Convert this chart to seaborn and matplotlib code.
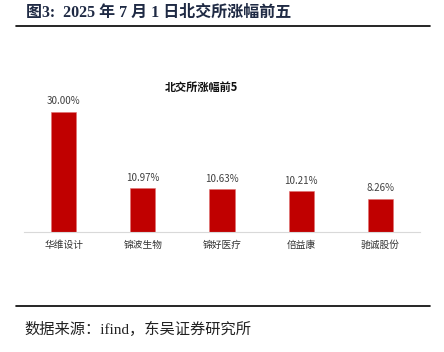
import matplotlib
matplotlib.use("Agg")
import matplotlib.pyplot as plt
import seaborn as sns
import pandas as pd
from matplotlib.lines import Line2D

stocks = ["华维设计", "锦波生物", "锦好医疗", "倍益康", "驰诚股份"]
gains = [30.00, 10.97, 10.63, 10.21, 8.26]
labels = ["30.00%", "10.97%", "10.63%", "10.21%", "8.26%"]

sns.set_theme(style="white")
plt.rcParams['font.family'] = ['Noto Sans CJK SC', 'DejaVu Sans']

df = pd.DataFrame({"stock": stocks, "gain": gains})

fig = plt.figure(figsize=(4.44, 3.52), dpi=100)
ax = fig.add_axes([24/444, 120/352, 396/444, 132/352])
sns.barplot(data=df, x="stock", y="gain", color="#C00000", width=0.32,
            saturation=1, ax=ax, edgecolor="#E07070", linewidth=0.4)
ax.set_ylim(0, 33)
ax.set_xlim(-0.5, 4.5)
ax.set_xlabel("")
ax.set_ylabel("")
ax.set_yticks([])
for s in ["top", "right", "left"]:
    ax.spines[s].set_visible(False)
ax.spines["bottom"].set_color("#D9D9D9")
ax.spines["bottom"].set_linewidth(0.8)
ax.tick_params(axis="x", length=0, pad=6, labelsize=7, colors="#333333")
for i, (v, t) in enumerate(zip(gains, labels)):
    ax.annotate(t, (i, v), xytext=(0, 4), textcoords="offset points",
                ha="center", va="bottom", fontsize=7, color="#404040")

fig.text(201/444, 1 - 87/352, "北交所涨幅前5", ha="center", va="center",
         fontsize=8, fontweight="bold", color="#111111")

fig.text(26/444, 1 - 13/352, "图3:  2025 年 7 月 1 日北交所涨幅前五", ha="left", va="center",
         fontsize=11.5, fontweight="bold", color="#1F2A44",
         family=['Liberation Serif', 'Noto Sans CJK SC'])
fig.add_artist(Line2D([16/444, 430/444], [1 - 26/352, 1 - 26/352], color="black", linewidth=1.2))
fig.add_artist(Line2D([16/444, 430/444], [1 - 306/352, 1 - 306/352], color="black", linewidth=1.2))
fig.text(24/444, 1 - 329/352, "数据来源：ifind，东吴证券研究所", ha="left", va="center",
         fontsize=11, color="#222222", family=['Liberation Serif', 'Noto Sans CJK SC'])

fig.savefig("out.png", dpi=100)
